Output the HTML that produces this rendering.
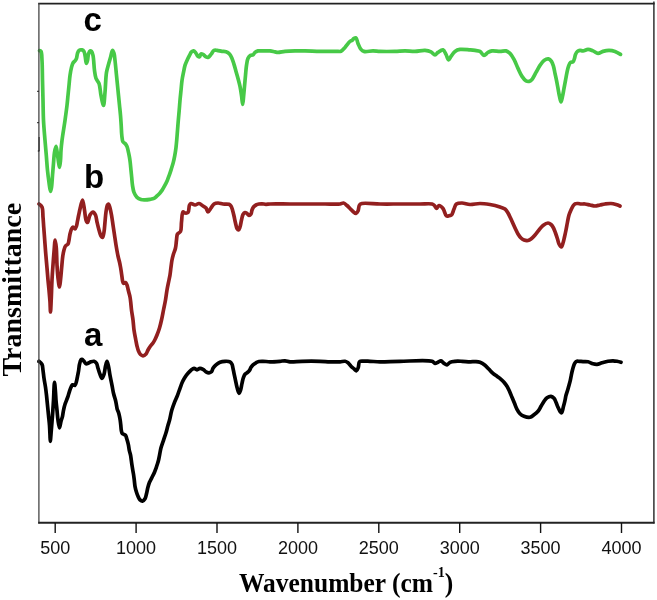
<!DOCTYPE html>
<html><head><meta charset="utf-8"><style>
html,body{margin:0;padding:0;background:#fff;}
body{width:657px;height:600px;overflow:hidden;}
svg{display:block;will-change:transform;}
.tl{font-family:"Liberation Sans",sans-serif;font-size:18px;fill:#111;}
.ax{font-family:"Liberation Serif",serif;font-weight:bold;font-size:28px;fill:#000;}
.lb{font-family:"Liberation Sans",sans-serif;font-weight:bold;font-size:33px;fill:#000;}
</style></head><body>
<svg width="657" height="600" viewBox="0 0 657 600">
<rect width="657" height="600" fill="#fff"/>
<g fill="none" stroke-linejoin="round" stroke-linecap="round" stroke-width="3.7">
<path stroke="#47c947" transform="translate(0,0.4)" d="M39.5,50.3 C39.50,50.30 40.61,50.45 41,51 C41.92,52.28 41.76,56.40 42,60 C42.36,65.35 42.33,73.33 42.5,80 C42.67,86.67 42.83,93.33 43,100 C43.17,106.67 43.17,113.34 43.5,120 C43.83,126.67 44.50,133.81 45,140 C45.43,145.36 45.88,150.00 46.3,155 C46.72,160.00 47.02,165.28 47.5,170 C47.93,174.23 48.46,178.29 49,182 C49.47,185.22 50.00,190.98 50.5,191 C50.83,191.01 51.22,188.71 51.5,187 C51.98,184.09 52.17,179.00 52.5,175 C52.83,171.00 53.16,166.91 53.5,163 C53.83,159.25 53.98,155.10 54.5,152 C54.89,149.68 55.55,145.99 56,146 C56.45,146.01 56.84,149.85 57.2,152 C57.62,154.47 57.90,157.43 58.3,160 C58.67,162.41 59.13,167.01 59.5,167 C59.87,166.99 60.25,162.55 60.5,160 C60.79,156.97 60.75,153.33 61,150 C61.25,146.66 61.51,143.90 62,140 C62.69,134.47 64.12,126.19 65,120 C65.76,114.64 66.48,109.50 67,105 C67.43,101.33 67.67,98.33 68,95 C68.33,91.67 68.67,88.33 69,85 C69.33,81.67 69.55,78.14 70,75 C70.41,72.18 70.91,69.27 71.5,67 C71.95,65.27 72.29,63.64 73,62.5 C73.54,61.62 74.42,61.24 75,60.5 C75.59,59.75 76.11,59.02 76.5,58 C77.02,56.65 77.01,54.43 77.5,53 C77.90,51.84 78.22,50.58 79,50 C79.74,49.45 81.14,49.29 82,49.5 C82.78,49.69 83.49,50.23 84,51 C84.73,52.11 84.84,54.19 85.2,56 C85.62,58.13 85.80,62.94 86.3,63 C86.64,63.04 87.17,61.21 87.5,60 C87.97,58.27 87.95,55.22 88.5,53.5 C88.89,52.27 89.36,50.76 90,50.5 C90.44,50.32 91.07,50.59 91.5,51 C92.20,51.67 92.58,53.21 93,55 C93.79,58.37 93.90,65.79 94.5,70 C94.94,73.09 95.13,75.71 96,78 C96.74,79.94 98.22,80.88 99,83 C100.13,86.06 100.21,91.20 101,95 C101.73,98.50 102.85,105.04 103.5,105 C104.23,104.95 104.54,96.80 105,92 C105.57,86.05 105.67,77.14 106.5,72 C107.03,68.71 107.81,66.57 108.5,64 C109.15,61.58 109.83,59.33 110.5,57 C111.17,54.67 111.79,50.07 112.5,50 C112.98,49.96 113.61,51.75 114,53 C114.57,54.81 114.66,57.22 115,60 C115.49,64.05 116.00,70.00 116.5,75 C117.00,80.00 117.50,85.00 118,90 C118.50,95.00 119.05,100.51 119.5,105 C119.87,108.67 120.22,111.66 120.5,115 C120.78,118.33 120.98,121.67 121.2,125 C121.42,128.33 121.44,132.03 121.8,135 C122.09,137.41 122.18,140.17 123,141.5 C123.51,142.32 124.38,142.35 125,143 C125.74,143.78 126.46,144.77 127,146 C127.71,147.61 128.07,150.09 128.5,152 C128.89,153.74 129.22,155.33 129.5,157 C129.78,158.66 129.98,160.14 130.2,162 C130.48,164.35 130.74,167.42 131,170 C131.24,172.41 131.46,174.59 131.7,177 C131.96,179.58 132.10,182.43 132.5,185 C132.88,187.42 133.18,189.92 134,192 C134.74,193.87 135.73,195.78 137,197 C138.12,198.08 139.62,198.79 141,199.2 C142.29,199.58 143.59,199.52 145,199.5 C146.57,199.48 148.44,199.27 150,199 C151.42,198.75 152.82,198.60 154,198 C155.15,197.42 156.02,196.40 157,195.5 C158.02,194.57 159.12,193.48 160,192.5 C160.76,191.65 161.32,190.99 162,190 C162.88,188.71 163.83,186.93 164.7,185.3 C165.60,183.60 166.53,181.79 167.3,180 C168.06,178.25 168.65,176.53 169.3,174.7 C169.99,172.77 170.65,170.76 171.3,168.7 C171.98,166.53 172.72,164.27 173.3,162 C173.89,159.70 174.36,157.42 174.8,155 C175.27,152.43 175.68,149.58 176,147 C176.30,144.59 176.47,142.54 176.7,140 C176.97,136.96 177.23,133.33 177.5,130 C177.77,126.67 178.02,123.33 178.3,120 C178.58,116.67 178.92,113.33 179.2,110 C179.48,106.67 179.70,103.33 180,100 C180.30,96.67 180.67,93.33 181,90 C181.33,86.67 181.55,83.14 182,80 C182.41,77.18 182.98,74.57 183.5,72 C183.98,69.59 184.36,67.11 185,65 C185.56,63.17 186.26,61.65 187,60 C187.76,58.32 188.69,56.51 189.5,55 C190.19,53.72 190.70,52.25 191.5,51.5 C192.09,50.94 192.85,50.44 193.5,50.5 C194.19,50.56 194.86,51.30 195.5,52 C196.38,52.96 197.15,55.33 198,56 C198.49,56.39 199.06,56.68 199.5,56.5 C200.14,56.24 200.30,53.82 201,53.5 C201.55,53.25 202.31,53.65 203,54 C203.95,54.48 205.05,56.02 206,56.5 C206.69,56.85 207.32,57.19 208,57 C208.97,56.73 210.04,55.11 211,54 C212.04,52.80 212.84,50.58 214,50 C214.90,49.55 215.88,49.89 217,50 C218.46,50.14 220.42,50.78 222,51 C223.40,51.19 224.76,50.89 226,51.3 C227.26,51.72 228.53,52.48 229.5,53.5 C230.58,54.64 231.28,56.36 232,58 C232.80,59.82 233.36,61.92 234,64 C234.69,66.24 235.33,68.67 236,71 C236.67,73.33 237.35,75.58 238,78 C238.69,80.57 239.43,83.24 240,86 C240.60,88.90 241.05,92.00 241.5,95 C241.95,98.00 242.34,104.00 242.7,104 C243.04,104.00 243.31,98.82 243.6,96 C243.92,92.85 244.19,89.41 244.5,86 C244.82,82.42 245.16,78.58 245.5,75 C245.83,71.59 246.03,68.02 246.5,65 C246.90,62.45 247.14,59.77 248,58 C248.64,56.69 249.56,55.56 250.5,55 C251.26,54.55 252.28,54.94 253,54.5 C253.81,54.01 254.18,52.66 255,52 C255.84,51.32 256.89,50.76 258,50.5 C259.21,50.21 260.44,50.50 262,50.5 C264.21,50.50 267.66,50.27 270,50.5 C271.87,50.69 273.54,51.23 275,51.5 C276.13,51.71 276.79,51.99 278,52 C279.85,52.02 282.45,51.25 285,51 C288.03,50.71 291.67,50.58 295,50.5 C298.33,50.42 301.33,50.44 305,50.5 C309.50,50.57 315.18,50.92 320,51 C324.49,51.07 329.91,51.00 333,51 C334.72,51.00 335.67,51.03 337,51 C338.33,50.97 339.76,51.33 341,50.8 C342.46,50.18 343.64,48.46 345,47 C346.62,45.27 348.61,42.10 350,41 C350.75,40.41 351.37,40.46 352,40 C352.71,39.49 353.27,38.41 354,38 C354.62,37.65 355.43,37.20 356,37.5 C356.95,38.01 357.20,41.15 358,43 C358.85,44.98 359.79,47.63 361,49 C361.89,50.00 362.65,50.63 364,51 C366.13,51.58 370.19,50.48 373,50.5 C375.48,50.52 377.23,50.90 380,51 C384.06,51.14 390.51,51.11 395,51 C398.67,50.91 401.67,50.50 405,50.5 C408.33,50.50 411.67,51.08 415,51 C418.34,50.92 422.11,49.79 425,50 C427.27,50.17 429.27,50.68 431,51.5 C432.55,52.24 433.77,54.53 435,54.5 C436.08,54.47 436.82,52.77 438,52 C439.41,51.08 441.66,49.14 443,49.5 C444.32,49.85 445.10,52.39 446,54 C446.95,55.71 447.58,59.41 448.5,59.5 C449.27,59.58 450.05,57.26 451,56 C452.16,54.47 453.41,52.18 455,51 C456.45,49.92 458.00,49.33 460,49 C462.72,48.55 467.24,49.29 470,49.5 C471.95,49.65 473.34,49.75 475,50 C476.67,50.25 478.53,50.21 480,51 C481.55,51.83 482.62,54.90 484,55 C485.29,55.09 486.61,52.76 488,52 C489.28,51.30 490.41,50.74 492,50.5 C494.18,50.17 497.53,51.03 500,51 C502.14,50.98 504.26,50.08 506,50.5 C507.54,50.87 508.78,51.82 510,53 C511.51,54.46 512.76,56.74 514,59 C515.45,61.64 516.63,65.10 518,68 C519.30,70.76 520.51,73.79 522,76 C523.23,77.81 524.62,79.74 526,80.5 C526.98,81.04 528.04,81.21 529,81 C530.05,80.78 531.04,80.02 532,79 C533.43,77.47 534.67,74.33 536,72 C537.33,69.67 538.58,67.09 540,65 C541.26,63.14 542.45,61.08 544,60 C545.34,59.07 547.21,58.26 548.5,58.5 C549.67,58.72 550.70,59.90 551.5,61 C552.44,62.30 552.94,64.17 553.5,66 C554.14,68.11 554.50,70.67 555,73 C555.50,75.33 556.02,77.59 556.5,80 C557.02,82.57 557.50,85.33 558,88 C558.50,90.67 558.95,93.59 559.5,96 C559.96,98.01 560.50,101.50 561,101.5 C561.50,101.50 562.04,98.01 562.5,96 C563.05,93.59 563.50,90.67 564,88 C564.50,85.33 565.00,82.67 565.5,80 C566.00,77.33 566.46,74.47 567,72 C567.47,69.85 567.85,67.77 568.5,66 C569.06,64.50 569.58,62.70 570.5,62 C571.19,61.47 572.36,62.02 573,61.5 C573.79,60.86 574.09,59.22 574.5,58 C574.93,56.73 574.97,55.20 575.5,54 C576.00,52.88 576.67,51.67 577.5,51 C578.21,50.42 579.11,50.10 580,50 C580.94,49.90 581.88,50.57 583,50.5 C584.46,50.41 586.33,49.00 588,49 C589.67,49.00 591.36,49.85 593,50.5 C594.70,51.17 596.32,52.93 598,53 C599.65,53.07 601.23,51.50 603,51 C604.88,50.47 607.00,50.00 609,50 C611.00,50.00 613.10,50.34 615,51 C616.93,51.67 620.50,54.00 620.5,54"/>
<path stroke="#921f1f" d="M39,204 C39.00,204.00 41.31,205.54 42,207 C43.06,209.25 42.71,213.59 43,217 C43.31,220.58 43.52,224.25 43.8,228 C44.09,231.91 44.40,236.00 44.7,240 C45.00,244.00 45.25,247.71 45.6,252 C46.00,256.95 46.58,263.05 47,268 C47.37,272.29 47.65,276.18 48,280 C48.32,283.49 48.68,286.51 49,290 C49.35,293.82 49.75,298.18 50,302 C50.23,305.48 50.31,312.00 50.5,312 C50.71,312.00 50.98,304.51 51.2,300 C51.49,294.18 51.67,286.19 52,280 C52.29,274.64 52.65,269.82 53,265 C53.32,260.51 53.62,256.24 54,252 C54.36,247.92 54.77,240.01 55.2,240 C55.55,239.99 56.02,244.83 56.3,248 C56.71,252.60 56.69,259.72 57,265 C57.27,269.63 57.52,274.07 58,278 C58.40,281.28 59.06,287.01 59.5,287 C59.88,287.00 60.18,282.74 60.5,280 C60.95,276.14 61.39,270.27 61.8,266 C62.15,262.39 62.37,258.90 62.8,256 C63.14,253.74 63.49,251.78 64,250 C64.42,248.51 64.75,247.03 65.5,246 C66.15,245.11 67.42,244.90 68,244 C68.66,242.97 68.69,241.47 69,240 C69.37,238.21 69.56,235.90 70,234 C70.41,232.24 70.87,230.25 71.5,229 C71.94,228.13 72.44,227.04 73,227 C73.60,226.96 74.43,229.09 75,229 C75.62,228.90 76.10,227.16 76.5,226 C76.99,224.57 77.15,222.74 77.5,221 C77.88,219.09 78.28,217.00 78.7,215 C79.12,213.00 79.46,211.19 80,209 C80.67,206.29 81.76,199.97 82.5,200 C83.27,200.03 83.92,206.66 84.5,210 C85.08,213.33 85.22,217.83 86,220 C86.42,221.17 87.00,222.56 87.5,222.5 C88.33,222.41 88.86,216.84 90,215 C90.84,213.65 92.07,211.96 93,212 C93.90,212.04 94.86,213.69 95.5,215 C96.36,216.77 96.44,219.59 97,222 C97.60,224.58 98.28,227.54 99,230 C99.63,232.16 100.21,234.72 101,236 C101.46,236.74 102.07,237.61 102.5,237.5 C103.20,237.31 103.61,234.12 104,232 C104.52,229.18 104.67,225.33 105,222 C105.33,218.67 105.53,215.02 106,212 C106.40,209.45 106.83,206.24 107.5,205 C107.80,204.45 108.18,203.93 108.5,204 C109.05,204.12 109.55,206.46 110,208 C110.58,209.99 111.04,212.45 111.5,215 C112.05,218.03 112.50,221.67 113,225 C113.50,228.33 114.00,231.67 114.5,235 C115.00,238.33 115.43,241.59 116,245 C116.59,248.58 117.33,252.89 118,256 C118.50,258.31 119.07,260.09 119.5,262 C119.89,263.74 120.20,265.33 120.5,267 C120.80,268.66 121.05,270.33 121.3,272 C121.55,273.67 121.77,275.43 122,277 C122.20,278.41 122.30,279.86 122.6,281 C122.84,281.89 122.99,283.08 123.5,283.3 C123.98,283.51 124.94,282.31 125.5,282.5 C126.15,282.72 126.60,284.04 127,285 C127.48,286.15 127.67,287.67 128,289 C128.33,290.33 128.67,291.67 129,293 C129.33,294.33 129.72,295.58 130,297 C130.30,298.57 130.48,300.14 130.7,302 C130.98,304.35 131.15,307.19 131.5,310 C131.89,313.15 132.58,316.66 133,320 C133.42,323.33 133.54,326.68 134,330 C134.47,333.34 135.25,337.09 135.8,340 C136.23,342.26 136.53,344.10 137,346 C137.44,347.75 137.86,349.51 138.5,351 C139.06,352.31 139.65,353.69 140.5,354.5 C141.21,355.18 142.14,355.83 143,355.8 C143.96,355.77 145.19,354.87 146,354 C146.91,353.01 147.26,351.32 148,350 C148.76,348.65 149.62,347.21 150.5,346 C151.30,344.90 152.25,344.07 153,343 C153.76,341.91 154.36,340.76 155,339.5 C155.70,338.11 156.33,336.68 157,335 C157.83,332.94 158.76,330.43 159.5,328 C160.27,325.44 160.87,322.82 161.5,320 C162.21,316.86 162.83,313.33 163.5,310 C164.17,306.67 164.92,303.34 165.5,300 C166.08,296.67 166.42,293.33 167,290 C167.58,286.66 168.45,282.76 169,280 C169.39,278.05 169.70,276.87 170,275 C170.38,272.65 170.65,269.58 171,267 C171.32,264.59 171.56,262.23 172,260 C172.41,257.91 172.92,255.99 173.5,254 C174.09,251.99 175.01,250.17 175.5,248 C176.06,245.55 176.14,242.47 176.5,240 C176.81,237.85 176.66,235.47 177.5,234 C178.17,232.82 179.81,232.80 180.5,231.5 C181.58,229.47 181.09,225.20 181.5,222 C181.92,218.70 181.88,212.58 183,212 C183.53,211.73 184.25,212.89 185,213 C185.88,213.13 187.26,213.21 188,212.5 C189.17,211.37 188.71,206.48 189.5,205 C189.92,204.22 190.32,203.65 191,203.5 C191.97,203.29 193.67,205.00 195,205 C196.33,205.00 197.70,203.37 199,203.5 C200.37,203.64 201.77,205.20 203,206 C204.08,206.70 205.19,207.08 206,208 C206.90,209.02 207.20,211.93 208,212 C208.85,212.08 210.00,209.33 211,208 C212.00,206.67 212.75,204.83 214,204 C215.13,203.25 216.59,203.03 218,203 C219.57,202.96 221.25,203.78 223,204 C224.90,204.24 227.60,203.74 229,204.3 C229.93,204.67 230.45,205.22 231,206 C231.70,206.99 232.04,208.52 232.5,210 C233.06,211.78 233.52,213.92 234,216 C234.52,218.24 234.97,220.81 235.5,223 C235.97,224.95 236.30,227.30 237,228.5 C237.43,229.23 238.05,230.07 238.5,230 C239.07,229.91 239.56,228.24 240,227 C240.64,225.18 240.97,222.19 241.5,220 C241.97,218.05 242.24,215.81 243,214.5 C243.54,213.58 244.29,212.62 245,212.5 C245.63,212.40 246.37,213.04 247,213.5 C247.71,214.01 248.31,215.45 249,215.5 C249.65,215.55 250.51,214.74 251,214 C251.63,213.06 251.55,211.22 252,210 C252.41,208.90 252.82,207.84 253.5,207 C254.16,206.18 255.08,205.50 256,205 C256.91,204.50 257.99,204.20 259,204 C259.99,203.81 260.93,203.77 262,203.8 C263.24,203.84 264.67,204.27 266,204.3 C267.33,204.33 268.16,204.07 270,204 C274.12,203.85 283.33,204.00 290,204 C296.67,204.00 303.81,204.00 310,204 C315.36,204.00 320.00,204.00 325,204 C330.00,204.00 336.76,204.45 340,204 C341.59,203.78 342.38,202.81 343.5,203 C344.72,203.21 345.91,204.58 347,205.5 C348.08,206.41 349.00,207.50 350,208.5 C351.00,209.50 351.96,210.64 353,211.5 C353.96,212.29 355.15,213.63 356,213.5 C356.80,213.38 357.46,212.09 358,211 C358.75,209.49 358.58,206.25 359.5,205 C360.13,204.14 360.71,203.84 362,203.5 C365.20,202.66 373.84,203.91 380,204 C386.49,204.09 393.33,204.00 400,204 C406.67,204.00 414.18,204.00 420,204 C424.51,204.00 429.58,203.31 432,204 C433.17,204.34 433.69,204.82 434.4,205.5 C435.21,206.27 435.75,208.47 436.5,208.5 C437.28,208.53 438.00,205.62 439,205.5 C440.13,205.37 441.85,207.09 443,208.5 C444.48,210.32 445.11,215.19 446.5,216 C447.27,216.45 448.18,215.96 449,215.8 C449.84,215.63 450.78,215.66 451.5,215 C452.63,213.97 453.15,210.90 454,209 C454.79,207.25 455.08,205.00 456.4,204 C457.74,202.99 459.97,202.99 462,203 C464.43,203.01 467.18,204.38 470,204.5 C473.14,204.63 476.67,203.50 480,203.5 C483.33,203.50 487.25,204.09 490,204.5 C491.96,204.79 493.34,205.09 495,205.5 C496.68,205.92 498.35,206.42 500,207 C501.68,207.59 503.65,207.97 505,209 C506.30,209.99 507.10,211.55 508,213 C508.95,214.53 509.68,216.29 510.5,218 C511.35,219.78 512.17,221.67 513,223.5 C513.83,225.33 514.65,227.22 515.5,229 C516.32,230.71 517.05,232.47 518,234 C518.90,235.45 519.90,236.96 521,238 C521.93,238.88 522.87,239.58 524,240 C525.19,240.44 526.79,240.71 528,240.5 C529.10,240.31 529.99,239.73 531,239 C532.31,238.05 533.71,236.45 535,235 C536.38,233.46 537.65,231.61 539,230 C540.31,228.44 541.46,226.68 543,225.5 C544.48,224.37 546.55,223.00 548,223 C549.13,223.00 550.12,223.75 551,224.5 C551.99,225.35 552.78,226.68 553.5,228 C554.31,229.48 554.86,231.25 555.5,233 C556.20,234.90 556.89,237.09 557.5,239 C558.05,240.74 558.28,242.60 559,244 C559.61,245.19 560.65,247.08 561.3,247 C562.00,246.91 562.50,244.49 563,243 C563.60,241.22 564.02,239.08 564.5,237 C565.02,234.76 565.52,232.41 566,230 C566.52,227.43 566.98,224.57 567.5,222 C567.98,219.59 568.36,217.11 569,215 C569.56,213.17 570.30,211.56 571,210 C571.64,208.58 572.25,207.09 573,206 C573.61,205.11 574.17,204.22 575,203.8 C575.84,203.38 577.00,203.47 578,203.5 C579.00,203.53 579.92,203.91 581,204 C582.23,204.10 583.60,203.86 585,204 C586.58,204.16 588.33,204.67 590,205 C591.67,205.33 593.33,206.00 595,206 C596.67,206.00 598.33,205.33 600,205 C601.67,204.67 603.25,204.25 605,204 C606.90,203.73 609.10,203.39 611,203.5 C612.75,203.60 614.44,204.06 616,204.5 C617.43,204.91 620.00,206.00 620,206"/>
<path stroke="#000" transform="translate(0,0.3)" d="M39,361 C39.00,361.00 41.33,362.69 42,364 C42.80,365.56 42.69,367.85 43,370 C43.36,372.47 43.60,375.26 44,378 C44.43,380.92 45.07,384.08 45.5,387 C45.90,389.74 46.18,392.18 46.5,395 C46.85,398.15 47.17,401.67 47.5,405 C47.83,408.33 48.17,411.67 48.5,415 C48.83,418.33 49.25,421.66 49.5,425 C49.75,428.33 49.85,432.09 50,435 C50.11,437.25 50.14,441.00 50.3,441 C50.52,441.00 50.96,433.95 51.3,430 C51.69,425.39 52.13,420.00 52.5,415 C52.87,410.00 53.18,405.23 53.5,400 C53.85,394.27 54.10,382.01 54.5,382 C54.80,381.99 55.24,388.85 55.5,392 C55.73,394.81 55.77,397.19 56,400 C56.26,403.15 56.67,406.67 57,410 C57.33,413.33 57.54,416.92 58,420 C58.40,422.69 58.98,427.49 59.5,427.5 C59.98,427.51 60.47,423.02 61,421 C61.47,419.22 62.09,417.76 62.5,416 C62.94,414.10 63.09,411.99 63.5,410 C63.92,407.99 64.44,405.78 65,404 C65.46,402.52 66.00,401.33 66.5,400 C67.00,398.67 67.52,397.42 68,396 C68.53,394.43 68.97,392.57 69.5,391 C69.98,389.58 70.44,388.16 71,387 C71.46,386.05 71.80,384.81 72.5,384.5 C73.16,384.21 74.36,385.35 75,385 C75.83,384.54 76.09,382.43 76.5,381 C76.94,379.44 77.17,377.67 77.5,376 C77.83,374.33 78.19,372.81 78.5,371 C78.87,368.87 79.01,366.06 79.5,364 C79.90,362.31 80.37,360.22 81,359.5 C81.30,359.15 81.63,358.94 82,359 C82.58,359.09 83.35,360.28 84,361 C84.69,361.77 85.24,363.24 86,363.5 C86.61,363.71 87.28,363.27 88,363 C88.92,362.66 89.97,361.83 91,361.5 C91.98,361.18 93.09,360.76 94,361 C94.93,361.24 95.86,362.05 96.5,363 C97.32,364.21 97.45,366.26 98,368 C98.61,369.91 99.26,372.23 100,374 C100.62,375.49 101.33,378.00 102,378 C102.67,378.00 103.46,375.61 104,374 C104.73,371.83 104.93,368.34 105.5,366 C105.96,364.12 106.50,361.00 107,361 C107.50,361.00 108.05,364.07 108.5,366 C109.09,368.55 109.44,371.93 110,375 C110.60,378.25 111.39,381.85 112,385 C112.55,387.81 112.89,390.44 113.5,393 C114.07,395.43 114.98,397.85 115.5,400 C115.94,401.80 116.20,403.42 116.5,405 C116.76,406.41 116.84,407.78 117.2,409 C117.53,410.09 118.13,410.91 118.5,412 C118.91,413.22 119.22,414.66 119.5,416 C119.78,417.33 119.99,418.59 120.2,420 C120.43,421.57 120.62,423.33 120.8,425 C120.98,426.67 121.01,428.56 121.3,430 C121.53,431.14 121.67,432.28 122.2,433 C122.64,433.60 123.42,433.85 124,434.2 C124.51,434.51 125.10,434.56 125.5,435 C126.00,435.56 126.19,436.59 126.5,437.5 C126.86,438.56 127.18,439.79 127.5,441 C127.84,442.29 128.21,443.59 128.5,445 C128.82,446.57 128.95,448.34 129.3,450 C129.65,451.68 130.27,453.32 130.6,455 C130.93,456.66 131.07,458.33 131.3,460 C131.53,461.67 131.75,463.33 132,465 C132.25,466.67 132.54,468.43 132.8,470 C133.04,471.41 133.27,472.53 133.5,474 C133.78,475.80 134.05,478.00 134.3,480 C134.55,482.00 134.64,484.01 135,486 C135.37,488.01 135.94,490.22 136.5,492 C136.96,493.48 137.41,494.73 138,496 C138.58,497.23 139.15,498.69 140,499.5 C140.71,500.18 141.70,500.91 142.5,500.8 C143.38,500.68 144.36,499.52 145,498.5 C145.80,497.23 146.05,495.25 146.5,493.5 C146.99,491.60 147.29,489.45 147.8,487.5 C148.29,485.62 148.83,483.66 149.5,482 C150.09,480.53 150.88,479.24 151.5,478 C152.04,476.93 152.50,476.00 153,475 C153.50,474.00 154.03,473.09 154.5,472 C155.03,470.78 155.53,469.34 156,468 C156.46,466.67 156.88,465.34 157.3,464 C157.72,462.67 158.15,461.42 158.5,460 C158.89,458.43 159.13,456.84 159.5,455 C159.95,452.75 160.34,449.98 161,447.5 C161.67,444.98 162.67,442.50 163.5,440 C164.33,437.50 165.25,435.01 166,432.5 C166.75,430.01 167.36,427.24 168,425 C168.52,423.16 168.99,421.96 169.5,420 C170.22,417.25 170.86,413.12 171.75,410 C172.55,407.16 173.51,404.56 174.5,402 C175.44,399.57 176.58,397.35 177.5,395 C178.41,392.68 179.15,390.29 180,388 C180.82,385.79 181.59,383.44 182.5,381.5 C183.28,379.83 184.08,378.43 185,377 C185.91,375.59 186.96,374.20 188,373 C188.96,371.89 189.96,370.86 191,370 C191.96,369.21 192.98,368.06 194,368 C194.98,367.94 196.00,369.50 197,369.5 C198.00,369.50 198.98,368.07 200,368 C200.99,367.93 202.05,368.47 203,369 C204.06,369.59 204.94,370.91 206,371.5 C206.95,372.03 208.05,372.53 209,372.5 C209.88,372.47 210.86,372.13 211.5,371.5 C212.27,370.75 212.31,369.12 213,368 C213.76,366.77 214.84,365.50 216,364.5 C217.17,363.49 218.53,362.58 220,362 C221.52,361.39 223.33,361.08 225,361 C226.66,360.92 228.80,360.85 230,361.5 C230.96,362.02 231.51,363.01 232,364 C232.56,365.13 232.68,366.59 233,368 C233.35,369.57 233.63,371.19 234,373 C234.44,375.14 235.00,377.67 235.5,380 C236.00,382.33 236.39,384.77 237,387 C237.57,389.09 238.32,392.95 239,393 C239.49,393.04 240.06,391.24 240.5,390 C241.14,388.18 241.48,385.24 242,383 C242.48,380.92 242.90,378.63 243.5,377 C243.94,375.80 244.35,374.77 245,374 C245.56,373.33 246.32,373.09 247,372.5 C247.81,371.80 248.83,370.93 249.5,370 C250.15,369.09 250.41,367.93 251,367 C251.58,366.10 252.20,365.23 253,364.5 C253.85,363.72 254.97,363.06 256,362.5 C256.98,361.97 257.90,361.46 259,361.2 C260.21,360.92 261.48,360.98 263,361 C265.01,361.02 267.46,361.47 270,361.5 C273.04,361.53 277.24,361.21 280,361 C281.95,360.85 283.34,360.42 285,360.5 C286.67,360.58 287.96,361.34 290,361.5 C293.13,361.74 297.59,361.09 302,361 C307.39,360.89 314.88,360.87 320,361 C323.82,361.10 326.67,361.42 330,361.5 C333.33,361.58 337.24,361.64 340,361.5 C341.96,361.40 343.58,360.74 345,361 C346.16,361.21 347.07,361.77 348,362.5 C349.09,363.35 349.95,364.97 351,366 C351.96,366.95 353.04,367.72 354,368.5 C354.87,369.21 355.81,370.65 356.5,370.5 C357.27,370.34 357.82,368.33 358.3,367 C358.87,365.41 358.51,362.48 359.5,361.5 C360.29,360.72 361.63,360.92 363,360.8 C364.93,360.64 367.46,360.90 370,361 C373.04,361.12 376.09,361.45 380,361.5 C385.52,361.57 392.55,361.09 400,361 C409.42,360.88 427.09,359.51 432,361 C433.65,361.50 433.96,362.86 435,363 C435.97,363.13 437.01,362.41 438,362 C439.02,361.58 440.04,360.39 441,360.5 C442.04,360.62 442.96,362.32 444,363 C444.96,363.63 446.04,364.61 447,364.5 C448.04,364.38 448.79,362.58 450,362 C451.39,361.34 453.18,361.18 455,361 C457.13,360.79 459.59,360.92 462,361 C464.58,361.08 467.52,361.46 470,361.5 C472.14,361.53 474.21,361.17 476,361.3 C477.47,361.40 478.64,361.49 480,362 C481.63,362.61 483.49,363.82 485,365 C486.49,366.16 487.67,367.67 489,369 C490.33,370.33 491.62,371.81 493,373 C494.29,374.12 495.67,375.00 497,376 C498.33,377.00 499.80,377.96 501,379 C502.11,379.96 503.04,380.89 504,382 C505.04,383.20 506.10,384.55 507,386 C507.95,387.53 508.70,389.24 509.5,391 C510.37,392.89 511.17,395.00 512,397 C512.83,399.00 513.67,401.00 514.5,403 C515.33,405.00 516.03,407.19 517,409 C517.89,410.65 518.78,412.31 520,413.5 C521.14,414.61 522.47,415.42 524,416 C525.74,416.66 528.26,417.35 530,417 C531.53,416.69 532.70,415.46 534,414.5 C535.38,413.48 536.85,412.37 538,411 C539.20,409.56 540.00,407.67 541,406 C542.00,404.33 542.93,402.48 544,401 C544.95,399.68 545.80,398.34 547,397.5 C548.15,396.69 549.79,395.86 551,396 C552.11,396.13 553.19,397.08 554,398 C554.90,399.02 555.36,400.58 556,402 C556.70,403.56 557.30,405.44 558,407 C558.64,408.42 559.28,410.03 560,411 C560.51,411.68 561.13,412.63 561.6,412.5 C562.43,412.27 562.92,408.13 563.5,406 C564.05,403.97 564.57,401.91 565,400 C565.39,398.26 565.57,396.65 566,395 C566.44,393.32 567.10,391.67 567.6,390 C568.10,388.34 568.55,386.67 569,385 C569.45,383.34 569.92,381.67 570.3,380 C570.68,378.34 570.95,376.66 571.3,375 C571.65,373.33 572.01,371.57 572.4,370 C572.75,368.59 573.05,367.27 573.5,366 C573.93,364.78 574.32,363.36 575,362.5 C575.55,361.80 576.29,361.24 577,361 C577.63,360.79 578.22,360.97 579,361 C580.11,361.04 581.59,361.22 583,361.3 C584.57,361.39 586.36,361.15 588,361.5 C589.70,361.86 591.40,363.09 593,363.5 C594.38,363.86 595.61,364.12 597,364 C598.59,363.87 600.25,362.98 602,362.5 C603.90,361.98 606.08,361.33 608,361 C609.73,360.70 611.43,360.48 613,360.5 C614.41,360.52 615.67,360.75 617,361 C618.34,361.25 621.00,362.00 621,362"/>
</g>
<g fill="none" stroke="#222">
<line x1="38.2" y1="3.7" x2="654.6" y2="3.7" stroke-width="1.7"/>
<line x1="38.9" y1="3" x2="38.9" y2="523.5" stroke-width="1.3" stroke="#444"/>
<line x1="653.9" y1="1.5" x2="653.9" y2="523.5" stroke-width="1.4"/>
<line x1="38.2" y1="522.8" x2="654.6" y2="522.8" stroke-width="2"/>
<line x1="55.2" y1="523" x2="55.2" y2="533" stroke="#111" stroke-width="1.4"/><line x1="136.1" y1="523" x2="136.1" y2="533" stroke="#111" stroke-width="1.4"/><line x1="217.0" y1="523" x2="217.0" y2="533" stroke="#111" stroke-width="1.4"/><line x1="297.9" y1="523" x2="297.9" y2="533" stroke="#111" stroke-width="1.4"/><line x1="378.8" y1="523" x2="378.8" y2="533" stroke="#111" stroke-width="1.4"/><line x1="459.7" y1="523" x2="459.7" y2="533" stroke="#111" stroke-width="1.4"/><line x1="540.6" y1="523" x2="540.6" y2="533" stroke="#111" stroke-width="1.4"/><line x1="621.5" y1="523" x2="621.5" y2="533" stroke="#111" stroke-width="1.4"/>
<line x1="37" y1="91.3" x2="39" y2="91.3" stroke-width="1"/>
<line x1="37" y1="122.7" x2="39" y2="122.7" stroke-width="1"/>
<line x1="37.8" y1="151" x2="39.4" y2="151" stroke-width="1.2"/>
<line x1="39.1" y1="137" x2="39.1" y2="151" stroke-width="1.2" stroke="#333"/>
<line x1="37" y1="362" x2="39" y2="362" stroke-width="1"/>
</g>
<g class="tl"><text x="55.2" y="553.8" text-anchor="middle">500</text><text x="136.1" y="553.8" text-anchor="middle">1000</text><text x="217.0" y="553.8" text-anchor="middle">1500</text><text x="297.9" y="553.8" text-anchor="middle">2000</text><text x="378.8" y="553.8" text-anchor="middle">2500</text><text x="459.7" y="553.8" text-anchor="middle">3000</text><text x="540.6" y="553.8" text-anchor="middle">3500</text><text x="621.5" y="553.8" text-anchor="middle">4000</text></g>
<text class="ax" transform="translate(239,592) scale(0.91,1)" x="0" y="0">Wavenumber (cm<tspan dy="-15" font-size="15.5">-1</tspan><tspan dy="15">)</tspan></text>
<text class="ax" transform="translate(20.8,376.5) rotate(-90)" x="0" y="0">Transmittance</text>
<text class="lb" x="83.5" y="31">c</text>
<text class="lb" x="84" y="187.5">b</text>
<text class="lb" x="84" y="346.3">a</text>
</svg>
</body></html>
